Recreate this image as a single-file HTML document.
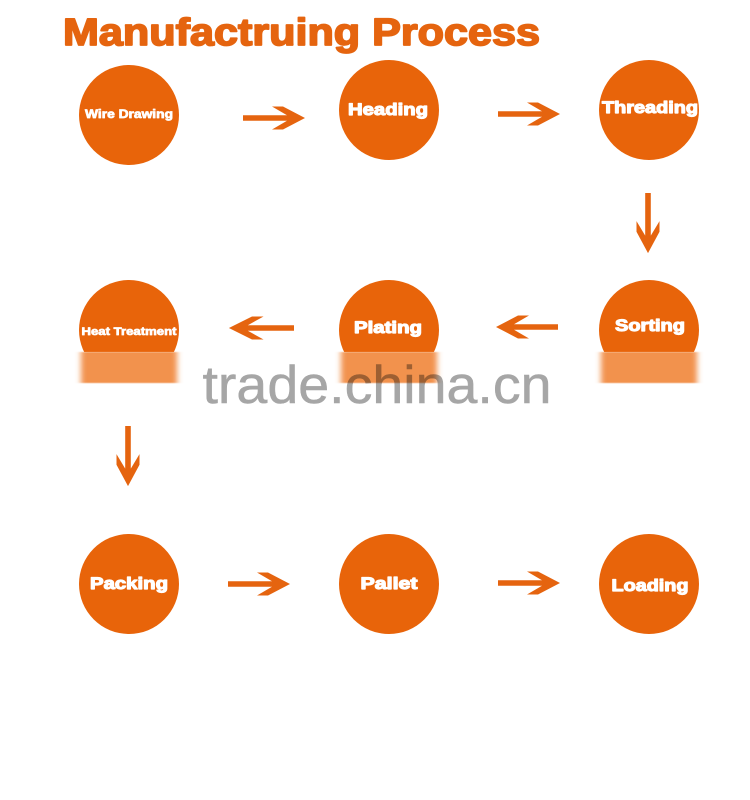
<!DOCTYPE html>
<html>
<head>
<meta charset="utf-8">
<style>
html,body{margin:0;padding:0;background:#fff;width:750px;height:800px;overflow:hidden}
svg{display:block}
text{font-family:"Liberation Sans",sans-serif;font-weight:bold}
.t{fill:#fff;stroke:#fff;stroke-width:1.15;text-anchor:middle;stroke-linejoin:round}
.m{stroke-width:.7}
</style>
</head>
<body>
<svg width="750" height="800" viewBox="0 0 750 800" xmlns="http://www.w3.org/2000/svg">
<defs>
<filter id="b" x="-15%" y="-5%" width="130%" height="110%"><feGaussianBlur stdDeviation="3 0.5"/></filter>
<filter id="s" x="-5%" y="-5%" width="110%" height="110%"><feGaussianBlur stdDeviation="0.35"/></filter>
<polygon id="ar" points="0,-2.8 44,-2.8 29,-11.5 40,-11.5 62,0 40,11.5 29,11.5 44,2.8 0,2.8" fill="#e5640f"/>
</defs>
<rect width="750" height="800" fill="#fff"/>
<text x="63" y="45" font-size="38" fill="#e5640f" stroke="#e5640f" stroke-width="1.7" stroke-linejoin="round" textLength="477" lengthAdjust="spacingAndGlyphs">Manufactruing Process</text>

<g fill="#e8640a">
<circle cx="129" cy="115" r="50"/>
<circle cx="389" cy="110" r="50"/>
<circle cx="649" cy="110" r="50"/>
<circle cx="129" cy="330" r="50"/>
<circle cx="389" cy="330" r="50"/>
<circle cx="649" cy="330" r="50"/>
<circle cx="129" cy="584" r="50"/>
<circle cx="389" cy="584" r="50"/>
<circle cx="649" cy="584" r="50"/>
</g>

<g fill="#fff">
<rect x="70" y="352" width="120" height="34"/>
<rect x="330" y="352" width="120" height="34"/>
<rect x="590" y="352" width="120" height="34"/>
</g>
<g fill="#f2924e" filter="url(#b)">
<rect x="81" y="352" width="96" height="31"/>
<rect x="341" y="352" width="96" height="31"/>
<rect x="601" y="352" width="96" height="31"/>
</g>

<text x="377" y="403" font-size="53" style="font-weight:normal;text-anchor:middle;mix-blend-mode:multiply" fill="#a6a6a6" stroke="#a6a6a6" stroke-width=".5" textLength="349" lengthAdjust="spacingAndGlyphs">trade.china.cn</text>

<g filter="url(#s)">
<text class="t m" x="129" y="118" font-size="11.5" textLength="88" lengthAdjust="spacingAndGlyphs">Wire Drawing</text>
<text class="t" x="388" y="115" font-size="17" textLength="80" lengthAdjust="spacingAndGlyphs">Heading</text>
<text class="t" x="650" y="113" font-size="17" textLength="96" lengthAdjust="spacingAndGlyphs">Threading</text>
<text class="t m" x="129" y="335" font-size="11" textLength="95" lengthAdjust="spacingAndGlyphs">Heat Treatment</text>
<text class="t" x="388" y="333" font-size="17" textLength="68" lengthAdjust="spacingAndGlyphs">Plating</text>
<text class="t" x="650" y="331" font-size="17" textLength="70" lengthAdjust="spacingAndGlyphs">Sorting</text>
<text class="t" x="129" y="589" font-size="17" textLength="78" lengthAdjust="spacingAndGlyphs">Packing</text>
<text class="t" x="389" y="589" font-size="17" textLength="57" lengthAdjust="spacingAndGlyphs">Pallet</text>
<text class="t" x="650" y="591" font-size="17" textLength="77" lengthAdjust="spacingAndGlyphs">Loading</text>
</g>

<use href="#ar" transform="translate(243,118)"/>
<use href="#ar" transform="translate(498,114)"/>
<use href="#ar" transform="translate(648,193) rotate(90) scale(.97,1)"/>
<use href="#ar" transform="translate(294,328) rotate(180) scale(1.05,1)"/>
<use href="#ar" transform="translate(558,327) rotate(180)"/>
<use href="#ar" transform="translate(128,426) rotate(90) scale(.97,1)"/>
<use href="#ar" transform="translate(228,584)"/>
<use href="#ar" transform="translate(498,583)"/>
</svg>
</body>
</html>
